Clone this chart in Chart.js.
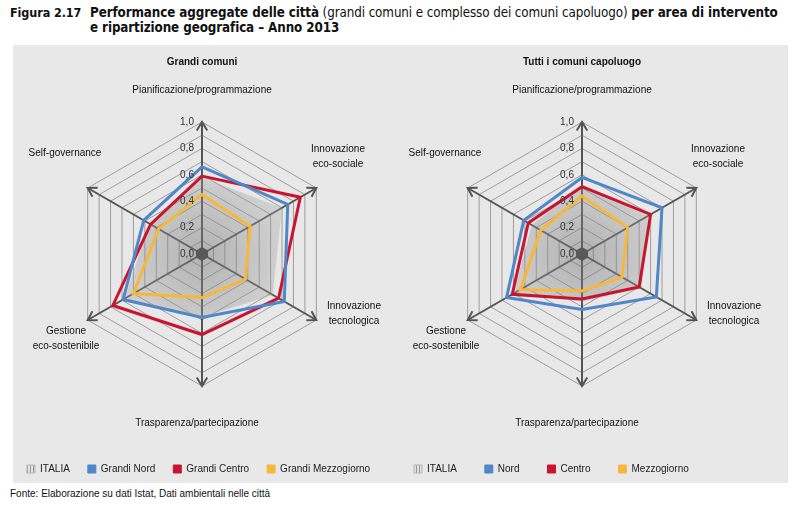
<!DOCTYPE html>
<html>
<head>
<meta charset="utf-8">
<script src="https://cdn.jsdelivr.net/npm/chart.js@4.4.0/dist/chart.umd.min.js"></script>
<style>
    body { margin: 0; width: 800px; height: 512px; background: #fff; position: relative; overflow: hidden; font-family: "Liberation Sans", Arial, sans-serif; color: #111; }
    #title { position: absolute; left: 10px; top: 5px; font-family: "DejaVu Sans Condensed", "Liberation Sans", sans-serif; font-size: 13.3px; line-height: 15px; display: flex; white-space: nowrap; letter-spacing: -0.1px; }
    #title .num { width: 80px; flex-shrink: 0; font-weight: bold; font-size: 12.5px; }
    #panel { position: absolute; left: 13px; top: 45px; width: 775px; height: 438px; background: #e8e8e9; }
    canvas { position: absolute; top: 40px; }
    #left { left: 0; }
    #right { left: 380px; }
    #source { position: absolute; left: 10px; top: 488px; font-size: 10px; }
</style>
</head>
<body>
<div id="title">
    <div class="num">Figura 2.17</div>
    <div><b>Performance aggregate delle città</b> (grandi comuni e complesso dei comuni capoluogo) <b>per area di intervento</b><br><b>e ripartizione geografica – Anno 2013</b></div>
</div>
<div id="panel"></div>
<canvas id="left" width="400" height="444"></canvas>
<canvas id="right" width="420" height="444"></canvas>
<div id="source">Fonte: Elaborazione su dati Istat, Dati ambientali nelle città</div>

<script>
// Axes
const axisLabels = [
    'Pianificazione/programmazione',
    ['Innovazione', 'eco-sociale'],
    ['Innovazione', 'tecnologica'],
    'Trasparenza/partecipazione',
    ['Gestione', 'eco-sostenibile'],
    'Self-governance'
];
const tickValues = [0, 0.2, 0.4, 0.6, 0.8, 1.0];
const tickLabels = ['0,0', '0,2', '0,4', '0,6', '0,8', '1,0'];

// Grandi comuni
const grandiItalia = [0.58, 0.70, 0.62, 0.48, 0.68, 0.46];
const grandiNord = [0.66, 0.75, 0.72, 0.48, 0.69, 0.51];
const grandiCentro = [0.59, 0.86, 0.67, 0.61, 0.78, 0.45];
const grandiMezzogiorno = [0.45, 0.42, 0.38, 0.33, 0.60, 0.38];

// Tutti i comuni capoluogo
const tuttiItalia = [0.52, 0.58, 0.52, 0.36, 0.60, 0.44];
const tuttiNord = [0.58, 0.70, 0.65, 0.42, 0.66, 0.51];
const tuttiCentro = [0.51, 0.60, 0.50, 0.34, 0.61, 0.47];
const tuttiMezzogiorno = [0.44, 0.40, 0.35, 0.28, 0.54, 0.36];

const BLUE = '#4f87c8';
const RED = '#c8142f';
const YELLOW = '#f7b83a';

// label block centre, relative to the chart centre
const labelOffsets = [[0, -164], [136, -97], [152, 60], [-5, 169], [-136, 85], [-137, -101]];

function hatchPattern() {
    const c = document.createElement('canvas');
    c.width = 3; c.height = 3;
    const g = c.getContext('2d');
    g.fillStyle = '#e2e2e2';
    g.fillRect(0, 0, 3, 3);
    g.fillStyle = '#9a9a9a';
    g.fillRect(0, 0, 1, 3);
    return g.createPattern(c, 'repeat');
}
const hatch = hatchPattern();

function italiaFill(context) {
    const chart = context.chart;
    const s = chart.scales.r;
    if (!s || !Number.isFinite(s.xCenter) || !s.drawingArea) return 'rgba(150,150,150,0.3)';
    const g = chart.ctx.createRadialGradient(s.xCenter, s.yCenter, 0, s.xCenter, s.yCenter, s.drawingArea * 0.75);
    g.addColorStop(0, 'rgba(110,110,110,0.45)');
    g.addColorStop(1, 'rgba(170,170,170,0.3)');
    return g;
}

const decor = {
    id: 'decor',
    afterDatasetsDraw(chart, args, opts) {
        const s = chart.scales.r;
        const ctx = chart.ctx;
        const n = chart.data.labels.length;
        ctx.save();

        // arrow heads
        ctx.strokeStyle = '#555';
        ctx.lineWidth = 2;
        for (let i = 0; i < n; i++) {
            const tip = s.getPointPositionForValue(i, 1);
            const a = s.getIndexAngle(i) - Math.PI / 2;
            ctx.beginPath();
            ctx.moveTo(tip.x - 10 * Math.cos(a - 0.55), tip.y - 10 * Math.sin(a - 0.55));
            ctx.lineTo(tip.x, tip.y);
            ctx.lineTo(tip.x - 10 * Math.cos(a + 0.55), tip.y - 10 * Math.sin(a + 0.55));
            ctx.stroke();
        }

        // dark centre
        ctx.fillStyle = '#595959';
        ctx.beginPath();
        for (let i = 0; i < n; i++) {
            const p = s.getPointPosition(i, 7);
            if (i === 0) ctx.moveTo(p.x, p.y); else ctx.lineTo(p.x, p.y);
        }
        ctx.closePath();
        ctx.fill();

        // tick labels
        ctx.font = '10px "Liberation Sans", Arial, sans-serif';
        ctx.fillStyle = '#333';
        ctx.textAlign = 'center';
        ctx.textBaseline = 'middle';
        tickValues.forEach((v, k) => {
            ctx.fillText(tickLabels[k], s.xCenter - 15, s.yCenter - s.getDistanceFromCenterForValue(v));
        });

        // axis labels
        ctx.fillStyle = '#111';
        chart.data.labels.forEach((lab, i) => {
            const lines = Array.isArray(lab) ? lab : [lab];
            const cx = s.xCenter + labelOffsets[i][0];
            const cy = s.yCenter + labelOffsets[i][1] - (lines.length - 1) * 7.5;
            lines.forEach((t, k) => ctx.fillText(t, cx, cy + k * 15));
        });

        // subtitle
        ctx.font = 'bold 10px "Liberation Sans", Arial, sans-serif';
        ctx.fillText(opts.subtitle, s.xCenter, 22);
        ctx.restore();
    }
};

function makeChart(id, subtitle, names, series, pad, legendPad) {
    const colors = [null, BLUE, RED, YELLOW];
    const datasets = series.map((vals, i) => {
        if (i === 0) {
            return {
                label: names[i], data: vals, fill: true, order: 2,
                backgroundColor: italiaFill, borderWidth: 0, pointRadius: 0,
                legendFill: hatch, legendStroke: '#b5b5b5'
            };
        }
        return {
            label: names[i], data: vals, fill: false, order: 0,
            borderColor: colors[i], backgroundColor: colors[i], borderWidth: 3,
            pointRadius: 0, legendFill: colors[i], legendStroke: colors[i]
        };
    });

    return new Chart(document.getElementById(id), {
        type: 'radar',
        data: { labels: axisLabels, datasets: datasets },
        options: {
            responsive: false,
            animation: false,
            layout: { padding: pad },
            elements: { line: { tension: 0, borderJoinStyle: 'miter' } },
            scales: {
                r: {
                    min: 0,
                    max: 1,
                    ticks: { stepSize: 0.1, display: false },
                    grid: { color: '#9d9d9d', lineWidth: 1 },
                    angleLines: { color: '#555', lineWidth: 2 },
                    pointLabels: { display: false }
                }
            },
            plugins: {
                tooltip: { enabled: false },
                decor: { subtitle: subtitle },
                legend: {
                    position: 'bottom',
                    align: 'start',
                    title: { display: true, text: '', font: { size: 10 }, padding: { top: 66 - legendPad, bottom: 0 } },
                    labels: {
                        boxWidth: 8,
                        boxHeight: 8,
                        padding: legendPad,
                        color: '#222',
                        font: { size: 10, family: '"Liberation Sans", Arial, sans-serif' },
                        sort: (a, b) => a.datasetIndex - b.datasetIndex,
                        generateLabels(chart) {
                            return Chart.defaults.plugins.legend.labels.generateLabels(chart).map(it => {
                                const ds = chart.data.datasets[it.datasetIndex];
                                it.fillStyle = ds.legendFill;
                                it.strokeStyle = ds.legendStroke;
                                it.lineWidth = 1;
                                return it;
                            });
                        }
                    }
                }
            }
        },
        plugins: [decor]
    });
}

makeChart('left', 'Grandi comuni',
    ['ITALIA', 'Grandi Nord', 'Grandi Centro', 'Grandi Mezzogiorno'],
    [grandiItalia, grandiNord, grandiCentro, grandiMezzogiorno],
    { top: 82, left: 9, right: 5, bottom: 0 }, 18);

makeChart('right', 'Tutti i comuni capoluogo',
    ['ITALIA', 'Nord', 'Centro', 'Mezzogiorno'],
    [tuttiItalia, tuttiNord, tuttiCentro, tuttiMezzogiorno],
    { top: 82, left: 6, right: 22, bottom: 0 }, 28);
</script>
</body>
</html>
